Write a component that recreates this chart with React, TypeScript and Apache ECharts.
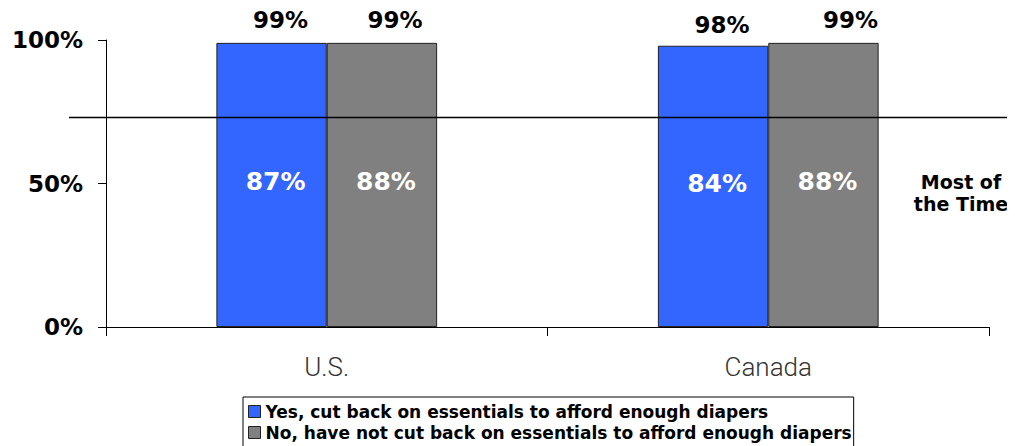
import React, { useEffect, useRef } from "react";
import * as echarts from "echarts";

const categories = ["U.S.", "Canada"];
const seriesNames = [
  "Yes, cut back on essentials to afford enough diapers",
  "No, have not cut back on essentials to afford enough diapers",
];
const everValues = [
  [99, 98],
  [99, 99],
];
const mostValues = [
  [87, 84],
  [88, 88],
];
const threshold = 73;
const yTicks = [0, 50, 100];
const colors = ["#3366FF", "#808080"];
const noteText = "Most of\nthe Time";

const topLabelOffsets = [
  [
    [9, 0],
    [9, 2],
  ],
  [
    [13, 0],
    [27, 0],
  ],
];

export default function App() {
  const ref = useRef<HTMLDivElement>(null);
  useEffect(() => {
    if (!ref.current) return;
    const chart = echarts.init(ref.current, null, { renderer: "svg" });
    const font = "'DejaVu Sans', Verdana, sans-serif";

    const mainSeries = seriesNames.map((name, s) => ({
      name,
      type: "bar",
      xAxisIndex: 0,
      yAxisIndex: 0,
      barGap: "0%",
      barCategoryGap: "50%",
      itemStyle: { color: colors[s], borderColor: "#222", borderWidth: 1 },
      data: everValues[s].map((v, i) => ({
        value: v,
        label: { offset: topLabelOffsets[s][i] },
      })),
      label: {
        show: true,
        position: "top",
        distance: 11,
        formatter: "{c}%",
        fontFamily: font,
        fontWeight: "bold",
        fontSize: 23,
        color: "#000",
      },
      markLine:
        s === 0
          ? {
              silent: true,
              symbol: "none",
              label: { show: false },
              lineStyle: { color: "#000", width: 1.3, type: "solid" },
              data: [[{ x: 69, yAxis: threshold }, { x: 1008, yAxis: threshold }]],
              z: 10,
            }
          : undefined,
      z: 2,
    }));

    const innerSeries = seriesNames.map((name, s) => ({
      name: name + " (most)",
      type: "bar",
      xAxisIndex: 1,
      yAxisIndex: 0,
      barGap: "0%",
      barCategoryGap: "50%",
      silent: true,
      itemStyle: { color: "rgba(0,0,0,0)" },
      data: everValues[s],
      label: {
        show: true,
        position: "inside",
        offset: [4, -3],
        formatter: (p: any) => mostValues[s][p.dataIndex] + "%",
        fontFamily: font,
        fontWeight: "bold",
        fontSize: 25,
        color: "#fff",
      },
      z: 5,
    }));

    chart.setOption({
      animation: false,
      grid: { left: 106, right: 26, top: 40, bottom: 119, containLabel: false },
      legend: {
        data: seriesNames,
        orient: "vertical",
        left: 243,
        top: 397,
        height: 80,
        padding: [6, 2, 8, 5],
        itemGap: 4,
        itemWidth: 12,
        itemHeight: 12,
        icon: "rect",
        borderColor: "#000",
        borderWidth: 1,
        itemStyle: { borderColor: "#222", borderWidth: 1 },
        textStyle: {
          fontFamily: font,
          fontWeight: "bold",
          fontSize: 17,
          color: "#000",
          padding: [0, 0, 0, 0],
        },
      },
      xAxis: [
        {
          type: "category",
          data: categories,
          axisLine: { lineStyle: { color: "#000", width: 1 } },
          axisTick: { show: true, length: 9, lineStyle: { color: "#000" } },
          axisLabel: {
            margin: 27,
            fontFamily: "Roboto, 'Open Sans', sans-serif",
            fontWeight: 300,
            fontSize: 26,
            color: "#333",
          },
        },
        {
          type: "category",
          data: categories,
          show: false,
        },
      ],
      yAxis: {
        type: "value",
        min: yTicks[0],
        max: yTicks[yTicks.length - 1],
        interval: yTicks[1] - yTicks[0],
        splitLine: { show: false },
        axisLine: { show: true, lineStyle: { color: "#000", width: 1 } },
        axisTick: { show: true, length: 8, lineStyle: { color: "#000" } },
        axisLabel: {
          formatter: "{value}%",
          margin: 23,
          fontFamily: font,
          fontWeight: "bold",
          fontSize: 23,
          color: "#000",
        },
      },
      graphic: [
        {
          type: "text",
          x: 961,
          y: 171,
          style: {
            text: noteText,
            fontFamily: font,
            fontWeight: "bold",
            fontSize: 19,
            lineHeight: 22,
            fill: "#000",
            align: "center",
            verticalAlign: "top",
          },
        },
      ],
      series: [...mainSeries, ...innerSeries],
    });
    return () => chart.dispose();
  }, []);
  return <div ref={ref} style={{ width: 1015, height: 446, marginLeft: -8, marginTop: -8 }} />;
}
